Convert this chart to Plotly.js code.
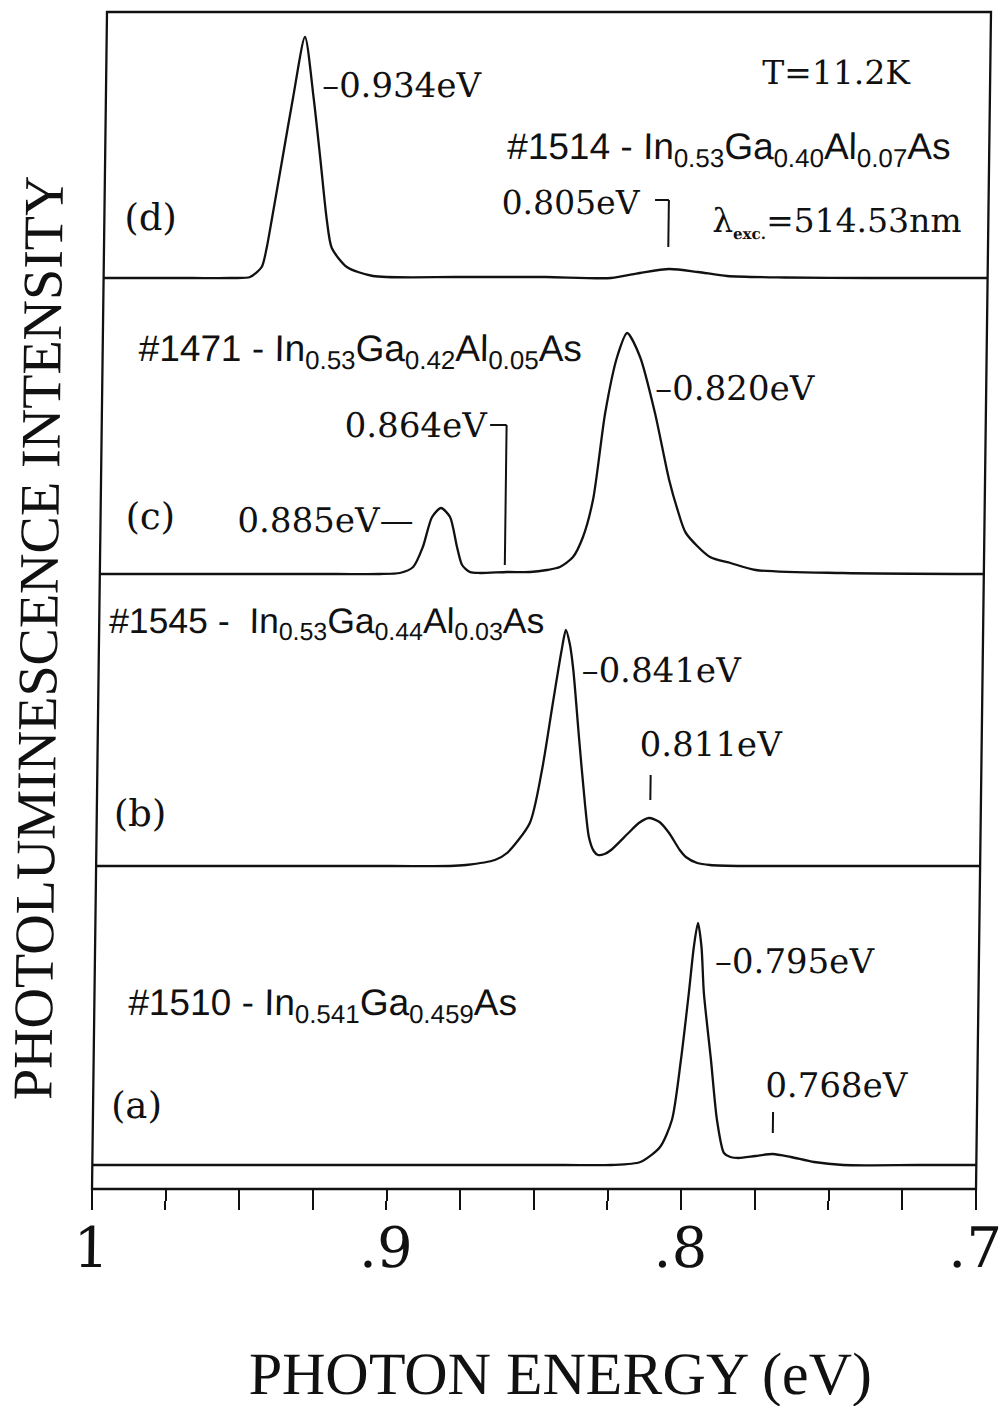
<!DOCTYPE html>
<html><head><meta charset="utf-8">
<script src="https://cdn.plot.ly/plotly-3.0.1.min.js"></script>
<style>
html,body{margin:0;padding:0;background:#fff;}
#chart{width:1005px;height:1406px;transform:skewX(-0.73deg);transform-origin:0 1189px;}
</style></head><body><div id="chart"></div>
<script>
// ---- data (photon energy in eV, PL intensity in arbitrary units) ----
const energyA = [1.000, 0.900, 0.840, 0.824, 0.814, 0.8074, 0.8035, 0.8007, 0.7983, 0.7968, 0.7955, 0.7942, 0.7932, 0.7905, 0.7882, 0.7857, 0.7835, 0.7807, 0.7750, 0.7691, 0.7630, 0.7551, 0.7452, 0.720, 0.700];
const intensityA = [0, 0, 0, 0, 3, 18, 45, 105, 172, 218, 242, 218, 172, 105, 45, 12, 8, 7, 9, 11, 8, 3, 0, 0, 0];

const energyB = [1.000, 0.900, 0.880, 0.8745, 0.8647, 0.8606, 0.8530, 0.8491, 0.8457, 0.8430, 0.8416, 0.8402, 0.8389, 0.8367, 0.8344, 0.8329, 0.8312, 0.8297, 0.8275, 0.8253, 0.8195, 0.8160, 0.8126, 0.8090, 0.8057, 0.8020, 0.7999, 0.7960, 0.7917, 0.780, 0.700];
const intensityB = [0, 0, 0, 1, 6, 13, 43, 96, 163, 215, 236, 222, 196, 129, 63, 29, 15, 11, 12, 16, 33, 43, 48, 44, 33, 16, 9, 3, 1, 0, 0];

const energyC = [1.000, 0.920, 0.905, 0.8982, 0.8937, 0.8905, 0.8875, 0.8845, 0.8814, 0.8789, 0.8771, 0.8744, 0.8710, 0.8618, 0.8540, 0.8483, 0.8439, 0.8395, 0.8362, 0.8329, 0.8292, 0.8254, 0.8221, 0.8176, 0.8123, 0.8072, 0.8042, 0.8013, 0.7930, 0.7860, 0.7774, 0.7479, 0.700];
const intensityC = [0, 0, 0, 1, 7, 27, 57, 66, 57, 27, 9, 2, 1, 2, 2, 4, 7, 17, 37, 75, 161, 217, 241, 217, 161, 94, 64, 41, 17, 11, 4, 1, 0];

const energyD = [1.000, 0.970, 0.9571, 0.9503, 0.9464, 0.9448, 0.9432, 0.9398, 0.9365, 0.9327, 0.9295, 0.9270, 0.9245, 0.9227, 0.9175, 0.9086, 0.880, 0.850, 0.8278, 0.8180, 0.8081, 0.7983, 0.7884, 0.7688, 0.740, 0.700];
const intensityD = [0, 0, 0, 1, 11, 30, 58, 120, 180, 241, 180, 120, 58, 30, 11, 2, 1, 1, 0, 5, 9, 6, 2, 0.5, 0, 0];

const majorTickValues = [1.0, 0.9, 0.8, 0.7];
const majorTickLabels = ['1', '.9', '.8', '.7'];
const minorTickValues = [0.975, 0.95, 0.925, 0.875, 0.85, 0.825, 0.775, 0.75, 0.725];

// ---- layout geometry (pixels) ----
const W = 1005, H = 1406, L = 92, R = 976, T = 12, B = 1189;
const PW = R - L, PH = B - T;
const px = (x, y) => ({x: (x - L) / PW, y: (B - y) / PH});
const PAD = 4;
function dom(base, top) { return [(B - (base + PAD)) / PH, (B - top) / PH]; }
function rng(base, top) { return [-PAD, base - top]; }
const panels = {a: [1165, 866], b: [866, 574], c: [574, 278], d: [278, 12]};

const lineStyle = {color: '#111', width: 2.3, shape: 'spline', smoothing: 0.7};
const traces = [
  {x: energyA, y: intensityA, xaxis: 'x', yaxis: 'y', mode: 'lines', line: lineStyle, name: '(a)'},
  {x: energyB, y: intensityB, xaxis: 'x', yaxis: 'y2', mode: 'lines', line: lineStyle, name: '(b)'},
  {x: energyC, y: intensityC, xaxis: 'x', yaxis: 'y3', mode: 'lines', line: lineStyle, name: '(c)'},
  {x: energyD, y: intensityD, xaxis: 'x', yaxis: 'y4', mode: 'lines', line: lineStyle, name: '(d)'}
];

const hiddenY = (p) => ({domain: dom(p[0], p[1]), range: rng(p[0], p[1]), visible: false, fixedrange: true, anchor: 'x'});

const SERIF = 'DejaVu Serif, serif';
const SANS = 'Liberation Sans, Arial, sans-serif';
const TSERIF = 'Liberation Serif, Times New Roman, serif';

function ann(text, x, y, size, family, extra) {
  const p = px(x, y);
  return Object.assign({text: text, xref: 'paper', yref: 'paper', x: p.x, y: p.y,
    xanchor: 'left', yanchor: 'middle', showarrow: false,
    font: {family: family, size: size, color: '#111'}}, extra || {});
}

const annotations = [
  ann('–0.934eV', 306, 85, 34, SERIF),
  ann('T=11.2K', 746, 72, 33, SERIF),
  ann('#1514 - In<sub>0.53</sub>Ga<sub>0.40</sub>Al<sub>0.07</sub>As', 492, 149, 37, SANS),
  ann('0.805eV', 487, 202, 33, SERIF),
  ann('λ<sub><span style="font-size:15px;font-weight:bold">exc.</span></sub>=514.53nm', 698, 222, 33, SERIF),
  ann('(d)', 110, 217, 37, SERIF),
  ann('#1471 - In<sub>0.53</sub>Ga<sub>0.42</sub>Al<sub>0.05</sub>As', 126, 351, 37, SANS),
  ann('–0.820eV', 643, 388, 34, SERIF),
  ann('0.864eV', 333, 425, 34, SERIF),
  ann('0.885eV—', 227, 520, 34, SERIF),
  ann('(c)', 115, 516, 37, SERIF),
  ann('#1545 -\u00a0 In<sub>0.53</sub>Ga<sub>0.44</sub>Al<sub>0.03</sub>As', 100, 623, 35.5, SANS),
  ann('–0.841eV', 573, 670, 34, SERIF),
  ann('0.811eV', 632, 744, 34, SERIF),
  ann('(b)', 107, 814, 37, SERIF),
  ann('–0.795eV', 710, 961, 34, SERIF),
  ann('#1510 - In<sub>0.541</sub>Ga<sub>0.459</sub>As', 124, 1005, 37, SANS),
  ann('0.768eV', 762, 1085, 34, SERIF),
  ann('(a)', 108, 1105, 37, SERIF),
  Object.assign(ann('PHOTOLUMINESCENCE INTENSITY', 31, 638, 56, TSERIF), {xanchor: 'center', textangle: -90}),
  Object.assign(ann('PHOTON ENERGY (eV)', 562, 1374, 60, TSERIF), {xanchor: 'center'})
];

const mk = {type: 'line', xref: 'x', line: {color: '#111', width: 2}};
const shapes = [
  {type: 'rect', xref: 'paper', yref: 'paper', x0: 0, x1: 1, y0: 0, y1: 1, line: {color: '#111', width: 2.3}},
  Object.assign({}, mk, {yref: 'y4', x0: 0.8132, x1: 0.8085, y0: 78, y1: 78}),
  Object.assign({}, mk, {yref: 'y4', x0: 0.8085, x1: 0.8085, y0: 78, y1: 31}),
  Object.assign({}, mk, {yref: 'y3', x0: 0.8682, x1: 0.8626, y0: 149, y1: 149}),
  Object.assign({}, mk, {yref: 'y3', x0: 0.8626, x1: 0.8626, y0: 149, y1: 9}),
  Object.assign({}, mk, {yref: 'y2', x0: 0.8122, x1: 0.8122, y0: 66, y1: 91}),
  Object.assign({}, mk, {yref: 'y', x0: 0.7692, x1: 0.7692, y0: 32, y1: 53})
];

const layout = {
  width: W, height: H,
  margin: {l: L, r: W - R, t: T, b: H - B, pad: 0},
  paper_bgcolor: '#fff', plot_bgcolor: 'rgba(0,0,0,0)',
  showlegend: false,
  xaxis: {
    range: [1, 0.7], domain: [0, 1], anchor: 'free', position: 0,
    showline: true, linecolor: '#111', linewidth: 2.3,
    ticks: 'outside', ticklen: 20, tickwidth: 2, tickcolor: '#111',
    tickmode: 'array', tickvals: majorTickValues, ticktext: majorTickLabels,
    ticklabelstandoff: -10,
    minor: {tickmode: 'array', tickvals: minorTickValues, ticks: 'outside', ticklen: 20, tickwidth: 2, tickcolor: '#111', showgrid: false},
    tickfont: {family: SERIF, size: 56, color: '#111'},
    showgrid: false, zeroline: false, fixedrange: true
  },
  yaxis: hiddenY(panels.a),
  yaxis2: hiddenY(panels.b),
  yaxis3: hiddenY(panels.c),
  yaxis4: hiddenY(panels.d),
  annotations: annotations,
  shapes: shapes
};

Plotly.newPlot('chart', traces, layout, {staticPlot: true, displayModeBar: false});
</script></body></html>
